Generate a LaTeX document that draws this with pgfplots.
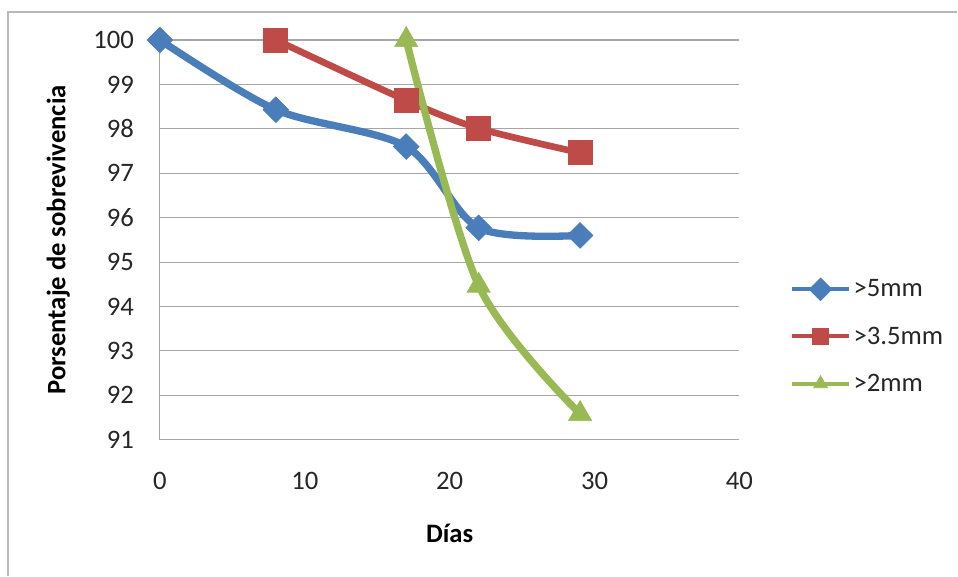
\documentclass[border=0pt]{standalone}
\usepackage{pgfplots}
\pgfplotsset{compat=1.18}
\usepackage{fontspec}
\setmainfont{Carlito}
\definecolor{cblue}{HTML}{4A7EBB}
\definecolor{cred}{HTML}{BE4B48}
\definecolor{cgreen}{HTML}{98B954}
\definecolor{grid}{HTML}{A6A6A6}
\begin{document}
\begin{tikzpicture}
\path[fill=white] (-120pt,-102pt) rectangle (598.5pt,330pt);
\draw[color=grid!80, line width=1pt] (-114pt,-102pt) -- (-114pt,321pt) -- (598.5pt,321pt);
\begin{axis}[
  at={(0,0)}, anchor=origin,
  scale only axis, width=435pt, height=300pt,
  xmin=0, xmax=40, ymin=91, ymax=100,
  xtick={0,10,20,30,40}, ytick={91,92,...,100},
  axis x line*=bottom, axis y line*=left,
  axis line style={draw=grid, line width=0.8pt, -},
  ymajorgrids, major grid style={draw=grid, line width=0.8pt},
  major tick length=0pt,
  /pgf/number format/assume math mode=true,
  ticklabel style={font=\fontsize{20}{24}\selectfont, text=black!85},
  xticklabel style={yshift=-21pt},
  yticklabel style={xshift=-16pt},
  xlabel={\textbf{Días}}, ylabel={\textbf{Porsentaje de sobrevivencia}},
  label style={font=\fontsize{20}{24}\selectfont},
  xlabel style={at={(axis description cs:0.5,0)}, anchor=north, yshift=-60pt},
  ylabel style={at={(axis description cs:0,0.5)}, anchor=south, yshift=64pt},
  legend style={draw=none, fill=none, at={(1.08,0.258)}, anchor=west,
    font=\fontsize{20}{24}\selectfont, row sep=17pt, text=black!85,
    /tikz/every even column/.append style={column sep=2pt}},
  legend cell align=left,
  legend image code/.code={\draw[line width=3pt,mark size=6pt] plot[mark repeat=2,mark phase=2] coordinates {(0cm,0cm)(0.75cm,0cm)(1.5cm,0cm)};},
  clip=false,
]
\addplot[cblue, line width=5.5pt, smooth, tension=0.5, mark=square*, mark size=6.8pt, mark options={rotate=45, line width=0.5pt, fill=cblue}]
  coordinates {(0,100) (8,98.43) (17,97.6) (22,95.77) (29,95.6)};
\addlegendentry{>5mm}
\addplot[cred, line width=5pt, smooth, tension=0.5, mark=square*, mark size=9pt, mark options={line width=0.5pt, fill=cred}]
  coordinates {(8,100) (17,98.64) (22,98.01) (29,97.46)};
\addlegendentry{>3.5mm}
\addplot[cgreen, line width=5.5pt, smooth, tension=0.5, mark=triangle*, mark size=10pt, mark options={line width=0.5pt, fill=cgreen}]
  coordinates {(17,100) (22,94.47) (29,91.58)};
\addlegendentry{>2mm}
\end{axis}
\end{tikzpicture}
\end{document}
